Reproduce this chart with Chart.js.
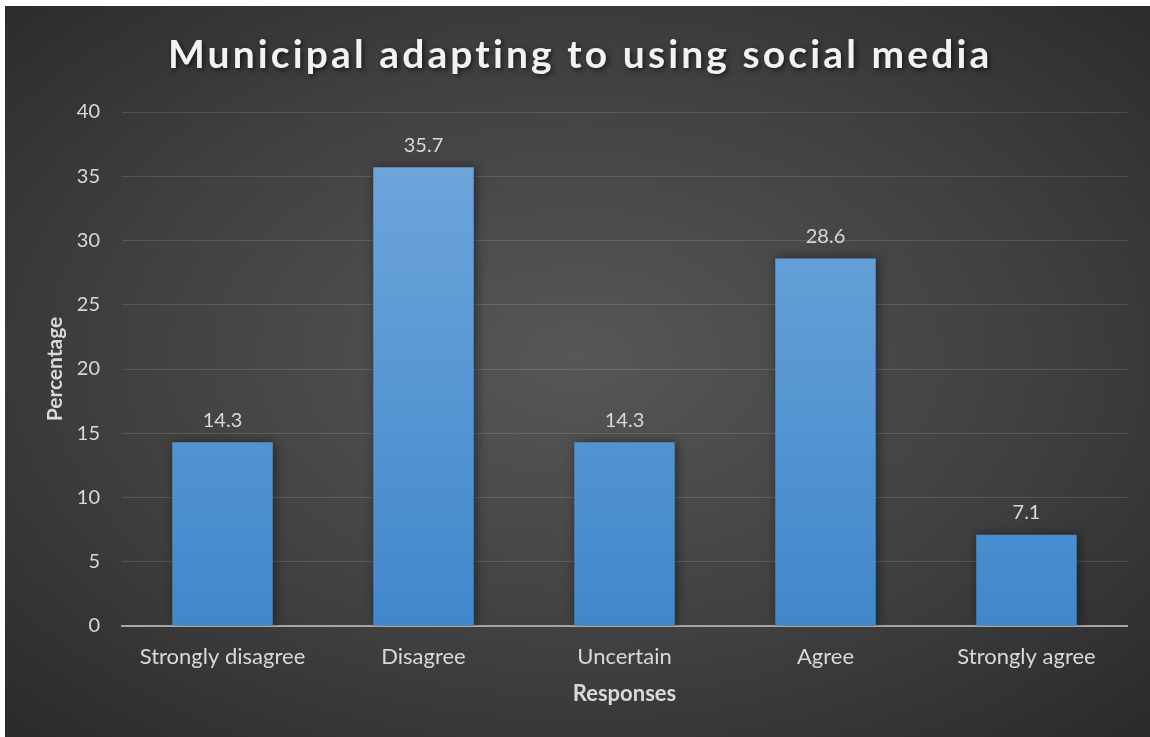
<!DOCTYPE html>
<html>
<head>
<meta charset="utf-8">
<script src="https://cdn.jsdelivr.net/npm/chart.js"></script>
<style>
  html, body { margin: 0; padding: 0; background: #fff; }
  #wrap {
    position: absolute; left: 5px; top: 6px; width: 1145px; height: 731px;
    background: radial-gradient(ellipse 75% 75% at 50% 48%, #575757 0%, #3f3f3f 55%, #282828 100%);
  }
  canvas { display: block; }
</style>
</head>
<body>
<div id="wrap"><canvas id="chart" width="1145" height="731"></canvas></div>
<script>
// survey responses, percent of municipalities
const categories = ['Strongly disagree', 'Disagree', 'Uncertain', 'Agree', 'Strongly agree']
const percentages = [14.3, 35.7, 14.3, 28.6, 7.1]
const yTicks = [0, 5, 10, 15, 20, 25, 30, 35, 40]

const chartTitle = 'Municipal adapting to using social media'
const FONT = 'Lato, "Open Sans", sans-serif'
const textColor = '#d9d9d9'

// title with wide spacing and a soft drop shadow
const titlePlugin = {
  id: 'spacedTitle',
  afterDraw(chart) {
    const ctx = chart.ctx
    ctx.save()
    ctx.font = 'bold 39px ' + FONT
    ctx.letterSpacing = '0px'
    const base = ctx.measureText(chartTitle).width
    const spacing = (822 - base) / (chartTitle.length - 1)
    ctx.letterSpacing = spacing + 'px'
    ctx.fillStyle = '#f2f2f2'
    ctx.textAlign = 'left'
    ctx.textBaseline = 'middle'
    ctx.shadowColor = 'rgba(0,0,0,0.6)'
    ctx.shadowBlur = 5
    ctx.shadowOffsetX = 2
    ctx.shadowOffsetY = 2
    ctx.fillText(chartTitle, 163, 49)
    ctx.restore()
  }
}

// shadow under the bars and value labels above them
const barExtras = {
  id: 'barExtras',
  beforeDatasetsDraw(chart) {
    const ctx = chart.ctx
    ctx.save()
    ctx.shadowColor = 'rgba(0,0,0,0.45)'
    ctx.shadowBlur = 10
    ctx.shadowOffsetX = 2
    ctx.shadowOffsetY = 0
  },
  afterDatasetsDraw(chart) {
    const ctx = chart.ctx
    ctx.restore()
    ctx.save()
    ctx.font = '20px ' + FONT
    ctx.fillStyle = textColor
    ctx.textAlign = 'center'
    ctx.textBaseline = 'bottom'
    chart.getDatasetMeta(0).data.forEach((bar, i) => {
      ctx.fillText(percentages[i].toFixed(1), bar.x, bar.y - 12)
    })
    ctx.restore()
  }
}

const ctx = document.getElementById('chart').getContext('2d')
const fill = ctx.createLinearGradient(0, 106, 0, 620)
fill.addColorStop(0, '#72a8dd')
fill.addColorStop(1, '#4088cb')

new Chart(ctx, {
  type: 'bar',
  data: {
    labels: categories,
    datasets: [{
      data: percentages,
      backgroundColor: fill,
      borderWidth: 0,
      categoryPercentage: 0.5,
      barPercentage: 1
    }]
  },
  options: {
    responsive: false,
    animation: false,
    layout: { padding: { top: 106, right: 23, left: 0, bottom: 0 } },
    plugins: { legend: { display: false }, tooltip: { enabled: false } },
    scales: {
      x: {
        grid: { display: false, drawTicks: false },
        border: { color: '#a6a6a6', width: 2 },
        ticks: { color: textColor, font: { family: FONT, size: 22 }, padding: 18 },
        title: {
          display: true, text: 'Responses', color: textColor,
          font: { family: FONT, size: 22, weight: 'bold' },
          padding: { top: 0, bottom: 30 }
        },
        afterFit(s) { s.height = 111 }
      },
      y: {
        min: 0, max: 40,
        afterBuildTicks(s) { s.ticks = yTicks.map(v => ({ value: v })) },
        grid: { color: 'rgba(255,255,255,0.13)', lineWidth: 1, drawTicks: false },
        border: { display: false },
        ticks: { color: textColor, font: { family: FONT, size: 20 }, padding: 22 },
        title: {
          display: true, text: 'Percentage', color: textColor,
          font: { family: FONT, size: 21, weight: 'bold' },
          padding: { top: 38, bottom: 0 }
        },
        afterFit(s) { s.width = 117 }
      }
    }
  },
  plugins: [titlePlugin, barExtras]
})
</script>
</body>
</html>
